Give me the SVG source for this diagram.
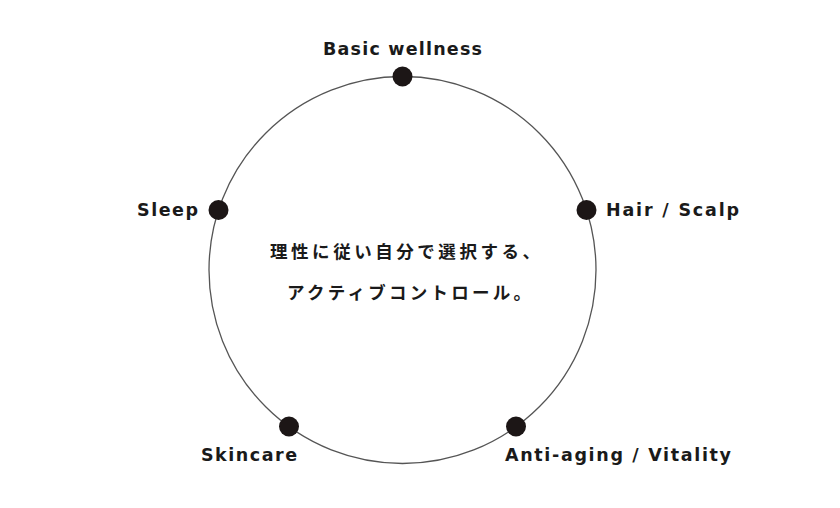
<svg xmlns="http://www.w3.org/2000/svg" width="840" height="508" viewBox="0 0 840 508">
<style>
.lbl{font-family:"DejaVu Sans","Liberation Sans",sans-serif;font-weight:700;font-size:17.5px;fill:#1a1a1a}
.jp{font-family:"Noto Sans CJK JP","Noto Sans",sans-serif;font-weight:700;font-size:17.5px;fill:#1a1a1a}
.dot{fill:#1c1616}
.ring{fill:none;stroke:#555;stroke-width:1.3}
</style>
<rect width="840" height="508" fill="#fff"/>
<g id="connectors">
<circle class="ring" cx="402.5" cy="270" r="193.5"/>
</g>
<g id="center-text">
<text class="jp" x="270" y="258" textLength="270" lengthAdjust="spacing">理性に従い自分で選択する、</text>
<text class="jp" x="287" y="299" textLength="244" lengthAdjust="spacing">アクティブコントロール。</text>
</g>
<g id="node-basic">
<circle class="dot" cx="402.5" cy="76.5" r="10"/>
<text class="lbl" x="323" y="55" textLength="159" lengthAdjust="spacing">Basic wellness</text>
</g>
<g id="node-hair">
<circle class="dot" cx="586.5" cy="210" r="10"/>
<text class="lbl" x="606" y="216" textLength="133" lengthAdjust="spacing">Hair / Scalp</text>
</g>
<g id="node-anti">
<circle class="dot" cx="516" cy="426.5" r="10"/>
<text class="lbl" x="505" y="461" textLength="226" lengthAdjust="spacing">Anti-aging / Vitality</text>
</g>
<g id="node-skin">
<circle class="dot" cx="289" cy="426.5" r="10"/>
<text class="lbl" x="201" y="461" textLength="96" lengthAdjust="spacing">Skincare</text>
</g>
<g id="node-sleep">
<circle class="dot" cx="218.5" cy="210" r="10"/>
<text class="lbl" x="137" y="216" textLength="61" lengthAdjust="spacing">Sleep</text>
</g>
</svg>
